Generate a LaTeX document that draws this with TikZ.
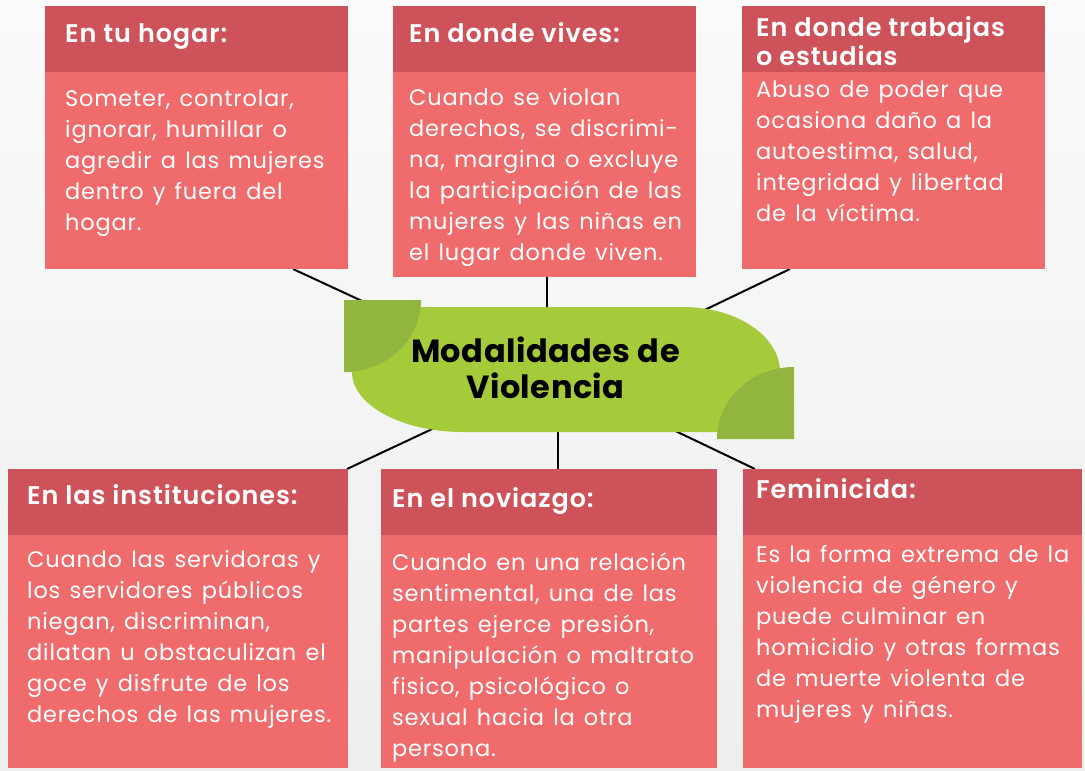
\documentclass[tikz,border=0pt]{standalone}
\usepackage{fontspec}
\setmainfont{Poppins}[LetterSpace=3.5,WordSpace=1.35]
\newfontfamily\medfont{Poppins SemiBold}[LetterSpace=3.5]
\newfontfamily\titlefont{Poppins Bold}[LetterSpace=1.5]
\definecolor{hdr}{HTML}{CD5259}
\definecolor{bod}{HTML}{EF6B6C}
\definecolor{grn}{HTML}{A5CB3A}
\definecolor{dgrn}{HTML}{92B53F}
\definecolor{bgtop}{HTML}{FBFBFB}
\definecolor{bgbot}{HTML}{EDEEEE}
\pgfdeclarelayer{bglayer}
\pgfdeclarelayer{lines}
\pgfsetlayers{bglayer,lines,main}
\tikzset{
  bodybox/.style={fill=bod, draw=none, inner sep=0pt, outer sep=0pt, anchor=north west},
  hdrbox/.style={fill=hdr, draw=none, inner sep=0pt, outer sep=0pt, anchor=north west, minimum height=66pt},
  hdrtext/.style={anchor=base west, inner sep=0pt, text=white, font=\medfont\fontsize{25.5}{29}\selectfont},
  bodytext/.style={anchor=base west, inner sep=0pt, text=white, font=\fontsize{22.5}{31}\selectfont},
  conn/.style={line width=2pt, black},
}
\begin{document}
\begin{tikzpicture}[x=1pt,y=-1pt]
\useasboundingbox (0,0) rectangle (1085,771);
\begin{pgfonlayer}{bglayer}
\shade[top color=bgtop, bottom color=bgbot] (0,0) rectangle (1085,771);
\end{pgfonlayer}

% central shape
\fill[grn] (344,307) -- (683,307) .. controls (736.6,307) and (780,336) .. (780,372)
  -- (780,432) -- (463,432) .. controls (401.7,432) and (352,405) .. (352,372)
  -- (344,372) -- cycle;
\fill[dgrn] (344,300) -- (421,300) .. controls (421,339.7) and (386.5,372) .. (344,372) -- cycle;
\fill[dgrn] (794,439) -- (717,439) .. controls (717,399.3) and (751.5,367) .. (794,367) -- cycle;
\node[inner sep=0pt, outer sep=0pt, minimum width=436pt, minimum height=125pt, anchor=north west] (g) at (344,307) {};
\node[anchor=base, inner sep=0pt, font=\titlefont\fontsize{32}{36}\selectfont] (c) at (545.5,362)
  {\parbox[t]{400pt}{\centering Modalidades de\\Violencia}};

% boxes top
\node[bodybox, minimum width=303pt, minimum height=263pt] (b1) at (45,6) {};
\node[hdrbox, minimum width=303pt] (h1) at (45,6) {};
\node[hdrtext] (t1) at (65,42) {En tu hogar:};
\node[bodytext] (d1) at (65,106) {\parbox[t]{320pt}{\raggedright Someter, controlar,\\ignorar, humillar o\\agredir a las mujeres\\dentro y fuera del\\hogar.}};

\node[bodybox, minimum width=303pt, minimum height=271pt] (b2) at (393,6) {};
\node[hdrbox, minimum width=303pt] (h2) at (393,6) {};
\node[hdrtext] (t2) at (409,42) {En donde vives:};
\node[bodytext] (d2) at (409,105) {\parbox[t]{320pt}{\raggedright Cuando se violan\\derechos, se discrimi-\\na, margina o excluye\\la participación de las\\mujeres y las niñas en\\el lugar donde viven.}};

\node[bodybox, minimum width=303pt, minimum height=263pt] (b3) at (742,6) {};
\node[hdrbox, minimum width=303pt] (h3) at (742,6) {};
\node[hdrtext] (t3) at (756,36) {\parbox[t]{320pt}{\raggedright En donde trabajas\\o estudias}};
\node[bodytext] (d3) at (756,97) {\parbox[t]{320pt}{\raggedright Abuso de poder que\\ocasiona daño a la\\autoestima, salud,\\integridad y libertad\\de la víctima.}};

% boxes bottom
\node[bodybox, minimum width=340pt, minimum height=299pt] (b4) at (8,469) {};
\node[hdrbox, minimum width=340pt] (h4) at (8,469) {};
\node[hdrtext] (t4) at (27,504) {En las instituciones:};
\node[bodytext] (d4) at (27,567) {\parbox[t]{340pt}{\raggedright Cuando las servidoras y\\los servidores públicos\\niegan, discriminan,\\dilatan u obstaculizan el\\goce y disfrute de los\\derechos de las mujeres.}};

\node[bodybox, minimum width=336pt, minimum height=299pt] (b5) at (381,469) {};
\node[hdrbox, minimum width=336pt] (h5) at (381,469) {};
\node[hdrtext] (t5) at (392,507) {En el noviazgo:};
\node[bodytext] (d5) at (392,570) {\parbox[t]{340pt}{\raggedright Cuando en una relación\\sentimental, una de las\\partes ejerce presión,\\manipulación o maltrato\\fisico, psicológico o\\sexual hacia la otra\\persona.}};

\node[bodybox, minimum width=339pt, minimum height=299pt] (b6) at (743,469) {};
\node[hdrbox, minimum width=339pt] (h6) at (743,469) {};
\node[hdrtext] (t6) at (756,498) {Feminicida:};
\node[bodytext] (d6) at (756,562) {\parbox[t]{340pt}{\raggedright Es la forma extrema de la\\violencia de género y\\puede culminar en\\homicidio y otras formas\\de muerte violenta de\\mujeres y niñas.}};

% connectors
\begin{pgfonlayer}{lines}
\draw[conn] ([xshift=96.5pt]b1.south) -- ([xshift=31pt]g.north west);
\draw[conn] ([xshift=2.5pt]b2.south) -- ([xshift=-15pt,yshift=-5pt]g.north);
\draw[conn] ([xshift=-103.5pt]b3.south) -- ([xshift=346pt,yshift=-10pt]g.north west);
\draw[conn] ([xshift=-1pt]b4.north east) -- ([xshift=101pt,yshift=9pt]g.south west);
\draw[conn] ([xshift=9pt]b5.north) -- ([xshift=-4pt,yshift=5pt]g.south);
\draw[conn] ([xshift=12pt]b6.north west) -- ([xshift=-115pt,yshift=6pt]g.south east);
\end{pgfonlayer}
\end{tikzpicture}
\end{document}
